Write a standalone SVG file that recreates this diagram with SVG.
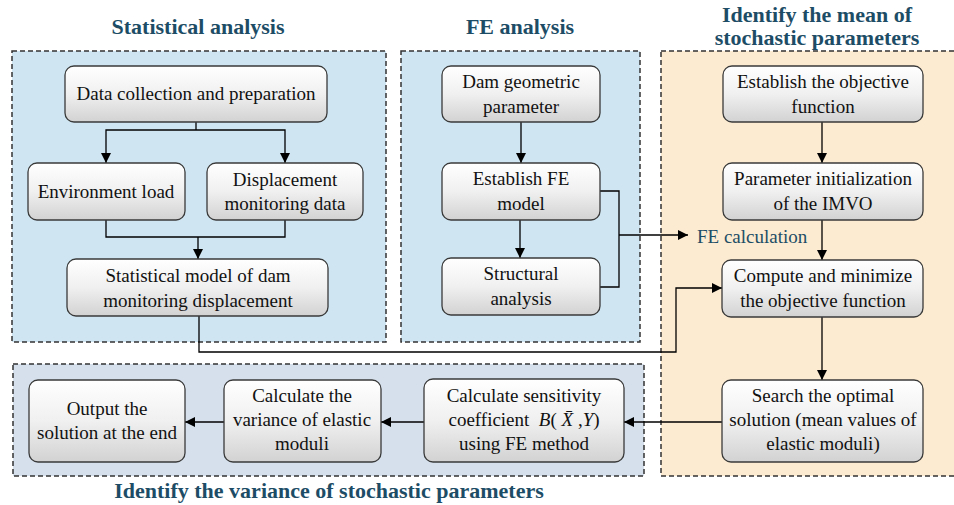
<svg xmlns="http://www.w3.org/2000/svg" width="954" height="505" viewBox="0 0 954 505">
<defs>
<linearGradient id="g" x1="0" y1="0" x2="0" y2="1">
<stop offset="0" stop-color="#ffffff"/>
<stop offset="0.5" stop-color="#f0f0f0"/>
<stop offset="1" stop-color="#d2d2d2"/>
</linearGradient>
<marker id="ah" viewBox="0 0 10 10" refX="10" refY="5" markerWidth="10" markerHeight="10" markerUnits="userSpaceOnUse" orient="auto">
<path d="M0,0 L10,5 L0,10 Z" fill="#000"/>
</marker>
<style>
.panel{stroke:#333;stroke-width:1.5;stroke-dasharray:5,3}
.box{fill:url(#g);stroke:#3a3a3a;stroke-width:1.3}
text{font-family:'Liberation Serif','Times New Roman',serif}
.t{font-size:19px;fill:#111;text-anchor:middle}
.title{font-size:22px;font-weight:bold;fill:#1d4d66;text-anchor:middle}
.lbl{font-size:19px;fill:#1d4d66}
.c{fill:none;stroke:#000;stroke-width:1.3}
.ca{fill:none;stroke:#000;stroke-width:1.3;marker-end:url(#ah)}
</style>
</defs>
<rect width="954" height="505" fill="#fff"/>
<g id="panels">
<rect class="panel" x="12" y="51" width="374" height="291" fill="#cfe6f2"/>
<rect class="panel" x="401" y="51" width="239" height="291" fill="#cfe6f2"/>
<rect class="panel" x="661" y="51" width="310" height="425" fill="#fcebd0"/>
<rect class="panel" x="13" y="364" width="631" height="112" fill="#d5e0ec"/>
</g>
<g id="titles">
<text class="title" x="198" y="34">Statistical analysis</text>
<text class="title" x="520" y="34">FE analysis</text>
<text class="title" x="817" y="22">Identify the mean of</text>
<text class="title" x="817" y="45">stochastic parameters</text>
<text class="title" x="329" y="498">Identify the variance of stochastic parameters</text>
</g>
<g id="connectors">
<polyline class="c" points="196,122 196,130"/>
<polyline class="ca" points="196,130 106,130 106,163"/>
<polyline class="ca" points="196,130 285,130 285,163"/>
<polyline class="c" points="106,220 106,237 285,237 285,220"/>
<polyline class="ca" points="198,237 198,259"/>
<polyline class="ca" points="199,316 199,352 676,352 676,288 722,288"/>
<polyline class="ca" points="521,122 521,163"/>
<polyline class="ca" points="520,220 520,258"/>
<polyline class="c" points="600,191 619,191 619,287 600,287"/>
<polyline class="ca" points="619,235 688,235"/>
<polyline class="ca" points="822,122 822,163"/>
<polyline class="ca" points="822,220 822,260"/>
<polyline class="ca" points="822,317 822,380"/>
<polyline class="ca" points="722,422 624,422"/>
<polyline class="ca" points="424,422 381,422"/>
<polyline class="ca" points="224,422 185,422"/>
</g>
<text class="lbl" x="697" y="243">FE calculation</text>
<g id="n-data">
<rect class="box" x="65" y="66" width="262" height="56" rx="9"/>
<text class="t" x="196" y="100">Data collection and preparation</text>
</g>
<g id="n-env">
<rect class="box" x="28" y="163" width="157" height="57" rx="9"/>
<text class="t" x="106" y="198">Environment load</text>
</g>
<g id="n-disp">
<rect class="box" x="207" y="163" width="156" height="57" rx="9"/>
<text class="t" x="285" y="186">Displacement</text>
<text class="t" x="285" y="210">monitoring data</text>
</g>
<g id="n-stat">
<rect class="box" x="67" y="259" width="261" height="57" rx="9"/>
<text class="t" x="198" y="282">Statistical model of dam</text>
<text class="t" x="198" y="307">monitoring displacement</text>
</g>
<g id="n-geom">
<rect class="box" x="442" y="66" width="158" height="56" rx="9"/>
<text class="t" x="521" y="88">Dam geometric</text>
<text class="t" x="521" y="113">parameter</text>
</g>
<g id="n-femodel">
<rect class="box" x="442" y="163" width="158" height="57" rx="9"/>
<text class="t" x="521" y="185">Establish FE</text>
<text class="t" x="521" y="210">model</text>
</g>
<g id="n-struct">
<rect class="box" x="442" y="258" width="158" height="57" rx="9"/>
<text class="t" x="521" y="280">Structural</text>
<text class="t" x="521" y="305">analysis</text>
</g>
<g id="n-obj">
<rect class="box" x="723" y="66" width="200" height="56" rx="9"/>
<text class="t" x="823" y="88">Establish the objective</text>
<text class="t" x="823" y="113">function</text>
</g>
<g id="n-init">
<rect class="box" x="723" y="163" width="200" height="57" rx="9"/>
<text class="t" x="823" y="185">Parameter initialization</text>
<text class="t" x="823" y="210">of the IMVO</text>
</g>
<g id="n-compute">
<rect class="box" x="722" y="260" width="201" height="57" rx="9"/>
<text class="t" x="823" y="282">Compute and minimize</text>
<text class="t" x="823" y="307">the objective function</text>
</g>
<g id="n-search">
<rect class="box" x="722" y="380" width="201" height="82" rx="9"/>
<text class="t" x="823" y="402">Search the optimal</text>
<text class="t" x="823" y="426">solution (mean values of</text>
<text class="t" x="823" y="450">elastic moduli)</text>
</g>
<g id="n-sens">
<rect class="box" x="424" y="379" width="200" height="83" rx="9"/>
<text class="t" x="524" y="402">Calculate sensitivity</text>
<text class="t" x="524" y="426" xml:space="preserve">coefficient  <tspan font-style="italic">B</tspan>( <tspan font-style="italic">X̄</tspan> ,<tspan font-style="italic">Y</tspan>)</text>
<text class="t" x="524" y="450">using FE method</text>
</g>
<g id="n-var">
<rect class="box" x="224" y="380" width="157" height="82" rx="9"/>
<text class="t" x="302" y="402">Calculate the</text>
<text class="t" x="302" y="426">variance of elastic</text>
<text class="t" x="302" y="450">moduli</text>
</g>
<g id="n-out">
<rect class="box" x="29" y="380" width="156" height="82" rx="9"/>
<text class="t" x="107" y="415">Output the</text>
<text class="t" x="107" y="439">solution at the end</text>
</g>
</svg>
